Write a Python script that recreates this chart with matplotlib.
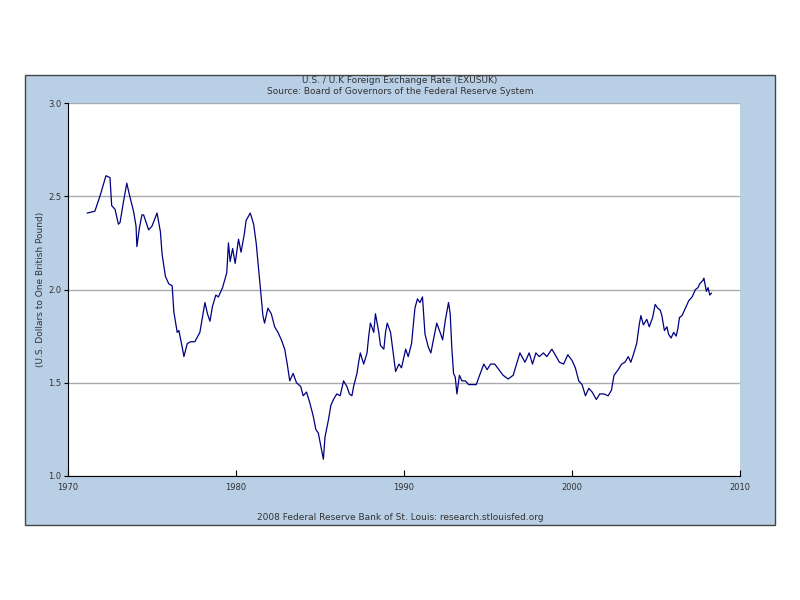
import matplotlib
matplotlib.use("Agg")
import matplotlib.pyplot as plt
from matplotlib.patches import Rectangle

# year (decimal) -> dollars per pound
years = [1971.15, 1971.6, 1971.9, 1972.1, 1972.26, 1972.5, 1972.6, 1972.8, 1973.0, 1973.1,
         1973.3, 1973.5, 1973.65, 1973.9, 1974.05, 1974.1, 1974.25, 1974.4, 1974.5, 1974.8,
         1975.0, 1975.3, 1975.5, 1975.6, 1975.8, 1976.0, 1976.2, 1976.3, 1976.5, 1976.6,
         1976.8, 1976.9, 1977.1, 1977.3, 1977.55, 1977.85, 1978.0, 1978.15, 1978.3, 1978.45,
         1978.6, 1978.8, 1978.95, 1979.2, 1979.45, 1979.55, 1979.65, 1979.8, 1979.95, 1980.15,
         1980.3, 1980.5, 1980.6, 1980.85, 1981.05, 1981.2, 1981.4, 1981.5, 1981.6, 1981.7,
         1981.9, 1982.1, 1982.3, 1982.5, 1982.7, 1982.9, 1983.05, 1983.2, 1983.4, 1983.6,
         1983.85, 1984.0, 1984.2, 1984.4, 1984.6, 1984.75, 1984.9, 1985.05, 1985.2, 1985.3,
         1985.5, 1985.65, 1985.8, 1986.0, 1986.2, 1986.4, 1986.6, 1986.75, 1986.9, 1987.0,
         1987.2, 1987.3, 1987.4, 1987.6, 1987.8, 1987.9, 1988.0, 1988.2, 1988.3, 1988.5,
         1988.6, 1988.8, 1988.9, 1989.0, 1989.2, 1989.3, 1989.5, 1989.7, 1989.85, 1990.1,
         1990.25, 1990.45, 1990.65, 1990.8, 1990.95, 1991.1, 1991.25, 1991.45, 1991.6, 1991.75,
         1991.95, 1992.15, 1992.3, 1992.45, 1992.65, 1992.75, 1992.85, 1992.95, 1993.05, 1993.15,
         1993.3, 1993.45, 1993.65, 1993.85, 1994.05, 1994.3, 1994.5, 1994.75, 1994.95, 1995.15,
         1995.4, 1995.65, 1995.9, 1996.2, 1996.5, 1996.7, 1996.9, 1997.2, 1997.45, 1997.65,
         1997.85, 1998.05, 1998.3, 1998.5, 1998.8, 1999.0, 1999.25, 1999.5, 1999.75, 2000.0,
         2000.2, 2000.4, 2000.6, 2000.8, 2001.0, 2001.2, 2001.45, 2001.65, 2001.9, 2002.15,
         2002.35, 2002.5, 2002.75, 2002.95, 2003.15, 2003.35, 2003.5, 2003.65, 2003.85, 2004.0,
         2004.1, 2004.25, 2004.45, 2004.6, 2004.8, 2004.95, 2005.1, 2005.25, 2005.35, 2005.5,
         2005.65, 2005.75, 2005.9, 2006.05, 2006.2, 2006.3, 2006.4, 2006.55, 2006.75, 2006.95,
         2007.15, 2007.35, 2007.5, 2007.6, 2007.8, 2007.85, 2008.0, 2008.1, 2008.2, 2008.3]
rate = [2.41, 2.42, 2.50, 2.56, 2.61, 2.60, 2.45, 2.43, 2.35, 2.36,
        2.47, 2.57, 2.51, 2.42, 2.34, 2.23, 2.33, 2.40, 2.40, 2.32,
        2.34, 2.41, 2.31, 2.19, 2.07, 2.03, 2.02, 1.88, 1.77, 1.78,
        1.69, 1.64, 1.71, 1.72, 1.72, 1.77, 1.85, 1.93, 1.87, 1.83,
        1.91, 1.97, 1.96, 2.01, 2.09, 2.25, 2.15, 2.22, 2.14, 2.27,
        2.20, 2.30, 2.37, 2.41, 2.35, 2.25, 2.06, 1.96, 1.86, 1.82,
        1.90, 1.87, 1.80, 1.77, 1.73, 1.68, 1.60, 1.51, 1.55, 1.50,
        1.48, 1.43, 1.45, 1.39, 1.32, 1.25, 1.23, 1.16, 1.09, 1.21,
        1.30, 1.38, 1.41, 1.44, 1.43, 1.51, 1.48, 1.44, 1.43, 1.48,
        1.55, 1.61, 1.66, 1.60, 1.66, 1.75, 1.82, 1.77, 1.87, 1.77,
        1.70, 1.68, 1.77, 1.82, 1.77, 1.70, 1.56, 1.60, 1.58, 1.68,
        1.64, 1.71, 1.90, 1.95, 1.93, 1.96, 1.76, 1.69, 1.66, 1.73,
        1.82, 1.77, 1.73, 1.83, 1.93, 1.87, 1.68, 1.55, 1.53, 1.44,
        1.54, 1.51, 1.51, 1.49, 1.49, 1.49, 1.54, 1.60, 1.57, 1.60,
        1.60, 1.57, 1.54, 1.52, 1.54, 1.60, 1.66, 1.61, 1.66, 1.60,
        1.66, 1.64, 1.66, 1.64, 1.68, 1.65, 1.61, 1.60, 1.65, 1.62,
        1.58, 1.51, 1.49, 1.43, 1.47, 1.45, 1.41, 1.44, 1.44, 1.43,
        1.46, 1.54, 1.57, 1.60, 1.61, 1.64, 1.61, 1.65, 1.71, 1.81,
        1.86, 1.81, 1.84, 1.80, 1.85, 1.92, 1.90, 1.89, 1.86, 1.78,
        1.80, 1.76, 1.74, 1.77, 1.75, 1.79, 1.85, 1.86, 1.90, 1.94,
        1.96, 2.00, 2.01, 2.03, 2.05, 2.06, 1.99, 2.01, 1.97, 1.98]

x_ticks = [1970, 1980, 1990, 2000, 2010]
y_ticks = [1.0, 1.5, 2.0, 2.5, 3.0]

txt = '#333333'
fig = plt.figure(figsize=(8, 6), dpi=100, facecolor='white')

# light blue frame behind the plot
fig.patches.append(Rectangle((0.03125, 0.125), 0.9375, 0.75, transform=fig.transFigure,
                             facecolor='#b8cfe5', edgecolor='#444444', linewidth=1, zorder=-10))

ax = fig.add_axes([0.085, 0.2067, 0.84, 0.6216])
ax.set_facecolor('white')
ax.plot(years, rate, color='#000080', linewidth=0.9)

ax.set_xlim(1970, 2010)
ax.set_ylim(1.0, 3.0)
ax.set_xticks(x_ticks)
ax.set_xticklabels([str(t) for t in x_ticks])
ax.set_yticks(y_ticks)
ax.set_yticklabels(['%.1f' % t for t in y_ticks])
ax.yaxis.grid(True, color='#aaaaaa', linewidth=1)
ax.set_axisbelow(True)
ax.tick_params(axis='x', direction='in', length=4, labelsize=6, labelcolor=txt, pad=5)
ax.tick_params(axis='y', direction='out', length=3, labelsize=6, labelcolor=txt, pad=2)
for s in ['top', 'right']:
    ax.spines[s].set_visible(False)
for s in ['left', 'bottom']:
    ax.spines[s].set_color('black')

ax.set_ylabel('(U.S. Dollars to One British Pound)', fontsize=6.5, color=txt, labelpad=2)

fig.text(0.5, 0.866, 'U.S. / U.K Foreign Exchange Rate (EXUSUK)', ha='center', va='center',
         fontsize=6.5, color=txt)
fig.text(0.5, 0.848, 'Source: Board of Governors of the Federal Reserve System', ha='center',
         va='center', fontsize=6.5, color=txt)
fig.text(0.5, 0.138, '2008 Federal Reserve Bank of St. Louis: research.stlouisfed.org',
         ha='center', va='center', fontsize=6.5, color=txt)

plt.savefig('out.png', dpi=100, facecolor='white')
